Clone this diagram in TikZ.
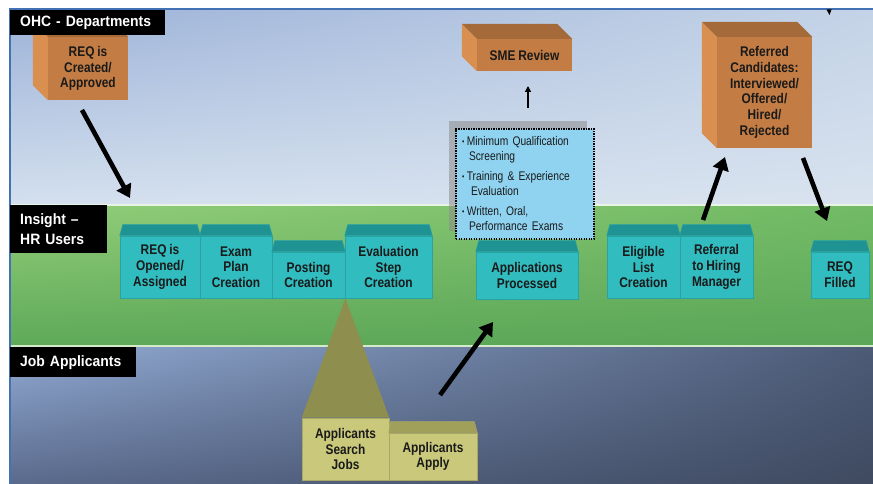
\documentclass[tikz,border=0pt]{standalone}
\usepackage{fontspec}
\setmainfont{Liberation Sans}
\newfontfamily\narrowfont{Liberation Sans}[FakeStretch=0.85, WordSpace=0.85]
\newfontfamily\notefont{Liberation Sans}[FakeStretch=0.82, WordSpace=0.6]
\newfontfamily\labelfont{Liberation Sans}[FakeStretch=0.93, WordSpace=0.6]
\usetikzlibrary{arrows.meta,calc,shadings}

% lane colours
\definecolor{skyUL}{HTML}{9CB2D8}
\definecolor{skyUR}{HTML}{C4D3E7}
\definecolor{skyLL}{HTML}{D4E0EE}
\definecolor{skyLR}{HTML}{D9E3EF}
\definecolor{grnUL}{HTML}{92CD79}
\definecolor{grnUR}{HTML}{72BA65}
\definecolor{grnLL}{HTML}{5EA959}
\definecolor{grnLR}{HTML}{5AA658}
\definecolor{bluUL}{HTML}{92ABD4}
\definecolor{bluUR}{HTML}{4C5A76}
\definecolor{bluLL}{HTML}{5A6A8C}
\definecolor{bluLR}{HTML}{3F4A60}
\definecolor{frameblue}{HTML}{4272B4}
% box colours
\definecolor{tealfrontc}{HTML}{31BCBF}
\definecolor{tealtopc}{HTML}{1F9294}
\definecolor{tealedge}{HTML}{27A3A6}
\definecolor{orfrontc}{HTML}{C37C43}
\definecolor{orsidec}{HTML}{D98F50}
\definecolor{ortopc}{HTML}{A46A3A}
\definecolor{olivetri}{HTML}{8E8E4F}
\definecolor{olivefront}{HTML}{C9C87B}
\definecolor{olivetop}{HTML}{A0A05A}
\definecolor{olivedge}{HTML}{A9A862}
\definecolor{notefill}{HTML}{8FD3F1}
\definecolor{boxtext}{HTML}{1A1A1A}

% teal step box: front face with a tapered top face
\newcommand\tealcube[6]{%
  \node[tealfront, minimum width=#4pt, minimum height=#5pt] (#1) at (#2,#3) {#6};
  \filldraw[tealtop] (#1.north west) -- ++(3,-11) -- ($(#1.north east)+(-3,-11)$) -- (#1.north east) -- cycle;}
% orange cube: front face, left side face and top face
\newcommand\orcube[6]{%
  \node[orfront, minimum width=#4pt, minimum height=#5pt] (#1) at (#2,#3) {#6};
  \fill[orsidec] (#1.north west) -- ++(-15,-15) -- ($(#1.south west)+(-15,-15)$) -- (#1.south west) -- cycle;
  \fill[ortopc] (#1.north west) -- ++(-15,-15) -- ($(#1.north east)+(-15,-15)$) -- (#1.north east) -- cycle;}
\newcommand\notebullet{\raisebox{1pt}{\fontsize{8}{8}\selectfont\textbullet}\hspace{2.5pt}}

\begin{document}
\begin{tikzpicture}[x=1pt,y=-1pt,
  boxfont/.style={font=\narrowfont\fontsize{14}{15.7}\selectfont\bfseries, text=boxtext},
  tealfront/.style={boxfont, fill=tealfrontc, draw=tealedge, line width=0.6pt, inner sep=0pt, align=center},
  tealtop/.style={fill=tealtopc, draw=tealedge, line width=0.5pt},
  orfront/.style={boxfont, fill=orfrontc, inner sep=0pt, align=center},
  olivebox/.style={boxfont, fill=olivefront, draw=olivedge, line width=0.6pt, inner sep=0pt, align=center},
  lanelabel/.style={fill=black, text=white, font=\labelfont\fontsize{15}{19.3}\selectfont\bfseries,
    inner xsep=10pt, inner ysep=0pt, anchor=north west, align=left},
  notebox/.style={fill=notefill, draw=black, line width=1.5pt, dash pattern=on 1.4pt off 1.1pt,
    font=\notefont\fontsize{12.5}{15}\selectfont, text=boxtext, align=left, inner sep=0pt},
  bigarrow/.style={line width=4.6pt, -{Triangle[length=13pt,width=16pt]}},
  smallarrow/.style={line width=1.8pt, -{Triangle[length=6pt,width=6pt]}}]
\useasboundingbox (0,0) rectangle (873,484);
\fill[white] (0,0) rectangle (873,484);

% swim lanes
\shade[upper left=skyUL, upper right=skyUR, lower left=skyLL, lower right=skyLR] (10,9) rectangle (873,205);
\shade[upper left=grnUL, upper right=grnUR, lower left=grnLL, lower right=grnLR] (10,205) rectangle (873,346);
\shade[upper left=bluUL, upper right=bluUR, lower left=bluLL, lower right=bluLR] (10,346) rectangle (873,484);
\draw[white!80!grnUL, line width=1.4pt] (10,205) -- (873,205);
\draw[white!60!grnUL, line width=1.6pt] (10,346) -- (873,346);
\draw[frameblue, line width=1.5pt] (10,484) -- (10,9) -- (873,9);
\fill[black] (826.5,9.5) -- (831.5,9.5) -- (829.5,15) -- cycle;

% OHC - Departments lane
\orcube{created}{88}{68.5}{80}{63}{REQ is\\Created/\\Approved}
\orcube{sme}{524.5}{55}{95}{32}{SME Review}
\orcube{referred}{764.5}{92.5}{95}{111}{Referred\\Candidates:\\Interviewed/\\Offered/\\Hired/\\Rejected}

% lane labels
\node[lanelabel, text width=135pt, minimum height=25pt] (ohc) at (10,10) {OHC - Departments};
\node[lanelabel, text width=77pt, minimum height=48pt] (insight) at (10,205) {Insight –\\HR Users};
\node[lanelabel, text width=106pt, minimum height=30pt] (jobs) at (10,347) {Job Applicants};

% Insight - HR Users lane
\tealcube{opened}{160}{267}{80}{62}{REQ is\\Opened/\\Assigned}
\tealcube{examplan}{236}{267}{72}{62}{Exam\\Plan\\Creation}
\tealcube{posting}{308.5}{275}{73}{46}{Posting\\Creation}
\tealcube{evalstep}{388.5}{267}{87}{62}{Evaluation\\Step\\Creation}
\tealcube{processed}{527}{275.5}{102}{47}{Applications\\Processed}
\tealcube{eligible}{643.5}{267}{73}{62}{Eligible\\List\\Creation}
\tealcube{referral}{716.5}{267}{73}{62}{Referral\\to Hiring\\Manager}
\tealcube{filled}{840}{275}{58}{46}{REQ\\Filled}

% evaluation criteria note with its shadow
\fill[gray!90, opacity=0.55] (449,121) rectangle (587,231);
\node[notebox, minimum width=138pt, minimum height=110pt, text width=126pt] (criteria) at (525,184)
  {\notebullet Minimum Qualification\\
   \hspace*{7pt}Screening\\[5pt]
   \notebullet Training \& Experience\\
   \hspace*{9pt}Evaluation\\[5pt]
   \notebullet Written, Oral,\\
   \hspace*{7pt}Performance Exams};

% Job Applicants lane
\node[olivebox, minimum width=87pt, minimum height=62pt] (search) at (345.5,449) {Applicants\\Search\\Jobs};
\fill[olivetri] (search.north west) -- (posting.south east) -- (search.north east) -- cycle;
\node[olivebox, minimum width=88pt, minimum height=47pt] (apply) at (433,456.5) {Applicants\\Apply};
\filldraw[fill=olivetop, draw=olivedge, line width=0.5pt] (apply.north west) -- ++(2,-11) -- ($(apply.north east)+(-3,-11)$) -- (apply.north east) -- cycle;

% connectors
\coordinate (a1s) at (82,110);   \coordinate (a1e) at (130,198);
\coordinate (a2s) at (528,108);  \coordinate (a2e) at (528,86);
\coordinate (a3s) at (703,220);  \coordinate (a3e) at (725,157);
\coordinate (a4s) at (803,158);  \coordinate (a4e) at (827,221);
\coordinate (a5s) at (440,395);  \coordinate (a5e) at (493,322);
\draw[bigarrow] (a1s) -- (a1e);
\draw[smallarrow] (a2s) -- (a2e);
\draw[bigarrow] (a3s) -- (a3e);
\draw[bigarrow] (a4s) -- (a4e);
\draw[bigarrow] (a5s) -- (a5e);
\end{tikzpicture}
\end{document}
